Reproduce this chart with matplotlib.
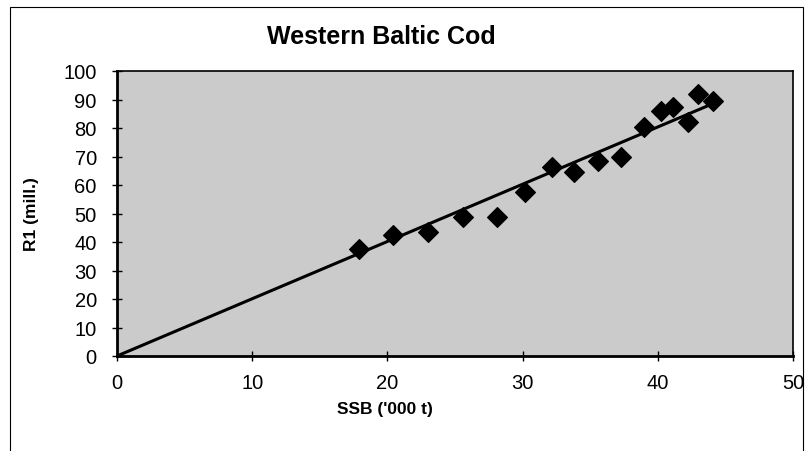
import matplotlib.pyplot as plt
from matplotlib.patches import Rectangle

plt.rcParams['font.family'] = ['Liberation Sans', 'DejaVu Sans']

# Spawning stock biomass ('000 t) and recruitment R1 (mill.)
ssb = [17.9, 20.4, 23.0, 25.6, 28.1, 30.2, 32.2, 33.8, 35.6, 37.3,
       39.0, 40.2, 41.1, 42.2, 43.0, 44.1]
r1 = [37.7, 42.3, 43.6, 48.9, 48.9, 57.4, 66.2, 64.4, 68.3, 69.7,
      80.3, 85.9, 87.3, 82.0, 91.9, 89.4]

# fitted line through the origin
fit_x = [0, 44.1]
fit_y = [0, 88.6]

xticks = [0, 10, 20, 30, 40, 50]
yticks = list(range(0, 101, 10))

fig = plt.figure(figsize=(8.11, 4.52), dpi=100)
W, H = 811, 452

# outer chart frame
fig.patches.append(Rectangle((10 / W, -0.05), 793 / W, (H - 8) / H + 0.05,
                             transform=fig.transFigure, fill=False,
                             edgecolor='black', linewidth=0.8))

ax = fig.add_axes([117 / W, 1 - 357 / H, (793 - 117) / W, (357 - 72) / H])
ax.set_facecolor('#cbcbcb')

ax.plot(fit_x, fit_y, color='black', linewidth=2.2, zorder=2)
ax.scatter(ssb, r1, marker='D', s=100, color='black', zorder=3)

ax.set_xlim(0, 50)
ax.set_ylim(0, 100)
ax.set_xticks(xticks)
ax.set_yticks(yticks)
ax.tick_params(direction='inout', length=7, width=1, labelsize=14.5)
ax.tick_params(axis='y', pad=11)
ax.tick_params(axis='x', pad=9)

for side in ['left', 'bottom']:
    ax.spines[side].set_linewidth(2)
for side in ['top', 'right']:
    ax.spines[side].set_linewidth(1.2)

# title and labels sit left of the plot centre, as in the original chart
fig.text(381 / W, 1 - 37 / H, 'Western Baltic Cod', fontsize=18,
         fontweight='bold', ha='center', va='center')
ax.set_xlabel("SSB ('000 t)", fontsize=12.5, fontweight='bold')
ax.xaxis.set_label_coords((385 - 117) / 676, -(402 - 357) / 285)
ax.set_ylabel('R1 (mill.)', fontsize=12.5, fontweight='bold')
ax.yaxis.set_label_coords(-(117 - 39) / 676, 0.5)

fig.savefig('out.png', dpi=100)
